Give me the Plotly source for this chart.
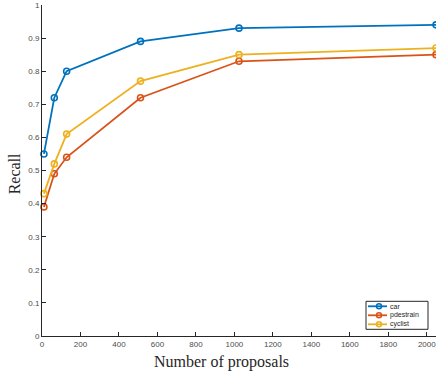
import plotly.graph_objects as go

proposals = [10, 64, 128, 512, 1024, 2048]
car = [0.55, 0.72, 0.80, 0.89, 0.93, 0.94]
pedestrian = [0.39, 0.49, 0.54, 0.72, 0.83, 0.85]
cyclist = [0.43, 0.52, 0.61, 0.77, 0.85, 0.87]
names = ["car", "pdestrain", "cyclist"]
colors = ["#0072BD", "#D95319", "#EDB120"]
series = [car, pedestrian, cyclist]
x_ticks = list(range(0, 2001, 200))
y_ticks = [round(i * 0.1, 1) for i in range(11)]

fig = go.Figure()
for name, vals, c in zip(names, series, colors):
    fig.add_trace(go.Scatter(
        x=proposals, y=vals, name=name, mode="lines+markers",
        line=dict(color=c, width=1.8),
        marker=dict(symbol="circle-open", size=6, color=c, line=dict(width=1.6, color=c)),
        showlegend=False, cliponaxis=False,
    ))

# custom compact legend (MATLAB style)
W, H = 394.0, 331.0
def px(xp):
    return (xp - 42) / W
def py(yp):
    return (335.7 - yp) / H

shapes = [dict(type="rect", xref="paper", yref="paper",
               x0=px(366), x1=px(428), y0=py(329), y1=py(301),
               line=dict(color="#262626", width=1), fillcolor="white")]
annotations = []
rows = [306, 315, 324]
for name, c, r in zip(names, colors, rows):
    shapes.append(dict(type="line", xref="paper", yref="paper",
                       x0=px(368), x1=px(387), y0=py(r), y1=py(r),
                       line=dict(color=c, width=1.8)))
    shapes.append(dict(type="circle", xref="paper", yref="paper",
                       x0=px(376.5), x1=px(381.5), y0=py(r + 2.5), y1=py(r - 2.5),
                       line=dict(color=c, width=1.5)))
    annotations.append(dict(xref="paper", yref="paper", x=px(387.5), y=py(r),
                            text=name, showarrow=False, xanchor="left", yanchor="middle",
                            font=dict(family="Liberation Sans, Arial", size=7, color="#262626")))

annotations.append(dict(xref="paper", yref="paper", x=px(221.5), y=py(361.5),
                        text="Number of proposals", showarrow=False,
                        xanchor="center", yanchor="middle",
                        font=dict(family="Liberation Serif, Times New Roman", size=16, color="#262626")))
annotations.append(dict(xref="paper", yref="paper", x=px(14.5), y=py(173.5),
                        text="Recall", showarrow=False, textangle=-90,
                        xanchor="center", yanchor="middle",
                        font=dict(family="Liberation Serif, Times New Roman", size=16, color="#262626")))

fig.update_layout(
    width=436, height=376,
    margin=dict(l=42, r=0, t=4.7, b=40.3),
    paper_bgcolor="white", plot_bgcolor="white",
    shapes=shapes, annotations=annotations,
    showlegend=False,
    xaxis=dict(
        range=[0, 2048], tickvals=x_ticks, ticks="inside", ticklen=4,
        tickcolor="#262626", showline=True, linecolor="#262626", linewidth=1,
        showgrid=False, zeroline=False, ticklabeloverflow="allow",
        tickfont=dict(family="Liberation Sans, Arial", size=8, color="#4d4d4d"),
    ),
    yaxis=dict(
        range=[0, 1], tickvals=y_ticks, ticks="inside", ticklen=4,
        tickcolor="#262626", showline=True, linecolor="#262626", linewidth=1,
        showgrid=False, zeroline=False, ticklabeloverflow="allow",
        tickfont=dict(family="Liberation Sans, Arial", size=8, color="#4d4d4d"),
    ),
)

fig.write_html("out.html", config={"displayModeBar": False},
               post_script="document.body.style.margin='0';document.body.style.overflow='hidden';")
